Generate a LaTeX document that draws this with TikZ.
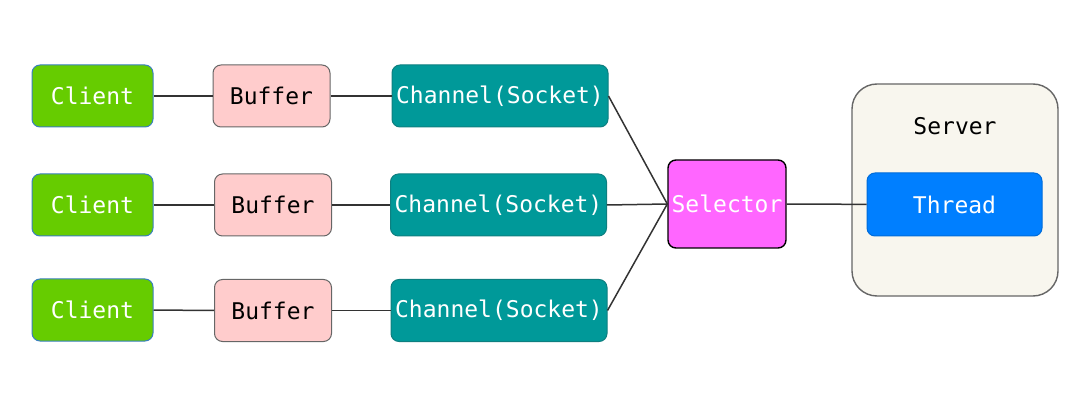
\documentclass[tikz,border=0pt]{standalone}
\usepackage{fontspec}
\setmainfont{DejaVu Sans Mono}
\usepackage{tikz}

\definecolor{clientgreen}{HTML}{66CC00}
\definecolor{clientline}{HTML}{3A7FBF}
\definecolor{bufferpink}{HTML}{FFCCCC}
\definecolor{channelteal}{HTML}{009999}
\definecolor{channelline}{HTML}{0E7F80}
\definecolor{selectorpink}{HTML}{FF66FF}
\definecolor{serverbg}{HTML}{F8F6EE}
\definecolor{threadblue}{HTML}{007FFF}
\definecolor{wire}{HTML}{333333}

\begin{document}
\begin{tikzpicture}[x=1pt,y=-1pt,
  box/.style ={rectangle, rounded corners=8pt, line width=1pt, inner sep=0pt, font=\fontsize{23}{25}\selectfont},
  client/.style ={box, draw=clientline, fill=clientgreen, text=white, minimum width=121pt, minimum height=62pt},
  buffer/.style ={box, draw=black!60, fill=bufferpink, text=black, minimum width=117pt, minimum height=62pt},
  channel/.style ={box, draw=channelline, fill=channelteal, text=white, minimum width=216pt, minimum height=62pt},
  selector/.style ={box, draw=black, line width=1.4pt, fill=selectorpink, text=white, minimum width=118pt, minimum height=88pt},
  server/.style ={rectangle, rounded corners=25pt, draw=black!60, line width=1.4pt, fill=serverbg, minimum width=206pt, minimum height=212pt},
  thread/.style ={box, draw=threadblue!85!black, fill=threadblue, text=white, minimum width=175pt, minimum height=63pt},
  wire/.style ={draw=wire, line width=1.5pt}]
 \useasboundingbox (0,0) rectangle (1082,406);
 \node[client] (C1) at (92.5,96)  {Client};
 \node[client] (C2) at (92.5,205)  {Client};
 \node[client] (C3) at (92.5,310)  {Client};
 \node[buffer] (B1) at (271.5,96)  {Buffer};
 \node[buffer] (B2) at (273,205)  {Buffer};
 \node[buffer] (B3) at (273,310.5)  {Buffer};
 \node[channel] (H1) at (500,96)  {Channel(Socket)};
 \node[channel] (H2) at (498.5,205)  {Channel(Socket)};
 \node[channel] (H3) at (499,310.5)  {Channel(Socket)};
 \node[selector] (S) at (727,204)  {Selector};
 \node[server] (V) at (955,190)  {};
 \node (VL) at (955,126) [font=\fontsize{23}{25}\selectfont] {Server};
 \node[thread] (T) at (954.5,204.5)  {Thread};
 \draw[wire] (C1) to  (B1);
 \draw[wire] (C2) to  (B2);
 \draw[wire] (C3) to  (B3);
 \draw[wire] (B1) to  (H1);
 \draw[wire] (B2) to  (H2);
 \draw[wire] (B3) to  (H3);
 \draw[wire] (H1.east) to  (S.west);
 \draw[wire] (H2.east) to  (S.west);
 \draw[wire] (H3.east) to  (S.west);
 \draw[wire] (S) to  (T);
\end{tikzpicture}
\end{document}
